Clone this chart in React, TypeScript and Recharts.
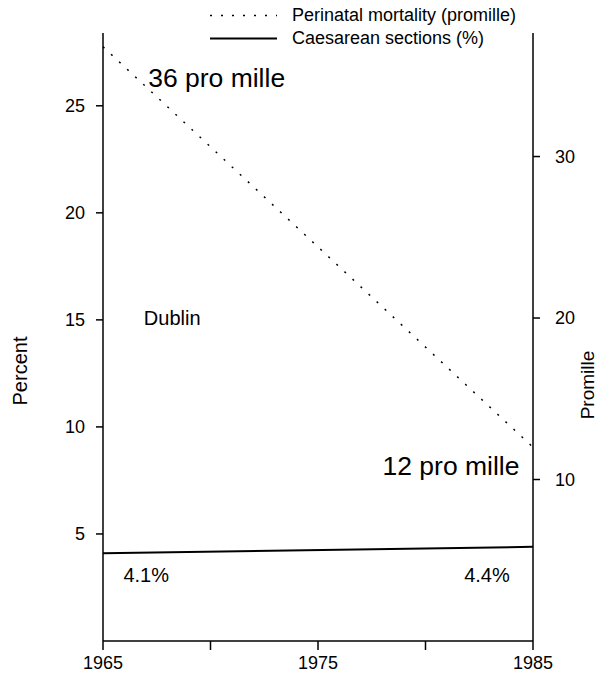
import React from 'react';
import {
  LineChart,
  Line,
  XAxis,
  YAxis,
  Legend,
  ReferenceDot,
} from 'recharts';

// values
const years = [1965, 1985];
const perinatalMortality = [36.8, 12];
const caesareanSections = [4.1, 4.4];

const yearTicks = [1965, 1970, 1975, 1980, 1985];
const yearLabels = [1965, 1975, 1985];
const percentTicks = [5, 10, 15, 20, 25];
const promilleTicks = [10, 20, 30];

const seriesNames = {
  perinatal: 'Perinatal mortality (promille)',
  caesarean: 'Caesarean sections (%)',
};
const legendOrder = ['perinatal', 'caesarean'];

// text notes on the plot, placed in data units of the left axis
const notes = [
  { text: '36 pro mille', year: 1967.1, pct: 26.3, size: 26.5 },
  { text: '12 pro mille', year: 1978.0, pct: 8.2, size: 26.5 },
  { text: 'Dublin', year: 1966.9, pct: 15.1, size: 20 },
  { text: '4.1%', year: 1965.95, pct: 3.1, size: 20 },
  { text: '4.4%', year: 1981.8, pct: 3.1, size: 20 },
];

const data = years.map((year, i) => ({
  year,
  perinatal: perinatalMortality[i],
  caesarean: caesareanSections[i],
}));

const FONT = '"Liberation Sans", Arial, sans-serif';
const dashes: Record<string, string | undefined> = { perinatal: '2 9', caesarean: undefined };

const renderLegend = (props: any) => {
  const payload = [...(props.payload || [])].sort(
    (a: any, b: any) => legendOrder.indexOf(a.dataKey) - legendOrder.indexOf(b.dataKey)
  );
  return (
    <div style={{ fontFamily: FONT, fontSize: 18, color: '#000' }}>
      {payload.map((entry: any) => (
        <div key={entry.dataKey} style={{ display: 'flex', alignItems: 'center', height: 23 }}>
          <svg width={82} height={23}>
            <line
              x1={0}
              x2={67}
              y1={11.5}
              y2={11.5}
              stroke="#000"
              strokeWidth={entry.dataKey === 'perinatal' ? 1.5 : 2}
              strokeDasharray={dashes[entry.dataKey]}
            />
          </svg>
          <span style={{ lineHeight: '23px', whiteSpace: 'nowrap' }}>{entry.value}</span>
        </div>
      ))}
    </div>
  );
};

const axisTitle = (value: string, dx: number, dy: number, size = 20) => (props: any) => {
  const { viewBox } = props;
  const x = viewBox.x + dx;
  const y = viewBox.y + viewBox.height / 2 + dy;
  return (
    <text
      x={x}
      y={y}
      transform={`rotate(-90, ${x}, ${y})`}
      textAnchor="middle"
      dominantBaseline="central"
      fontSize={size}
      fontFamily={FONT}
      fill="#000"
    >
      {value}
    </text>
  );
};

export default function App() {
  return (
    <div style={{ position: 'absolute', left: 0, top: 0, background: '#fff' }}>
      <LineChart
        width={598}
        height={675}
        data={data}
        margin={{ top: 33, right: 0, bottom: 0, left: 0 }}
        style={{ fontFamily: FONT }}
      >
        <XAxis
          dataKey="year"
          type="number"
          domain={[1965, 1985]}
          ticks={yearTicks}
          tickFormatter={(v: number) => (yearLabels.includes(v) ? String(v) : '')}
          height={34}
          tickSize={9}
          tickMargin={6}
          stroke="#000"
          strokeWidth={1.5}
          tick={{ fill: '#000', fontSize: 18 }}
          interval={0}
        />
        <YAxis
          yAxisId="left"
          domain={[0, 28.4]}
          ticks={percentTicks}
          width={103}
          tickSize={7}
          tickMargin={11}
          stroke="#000"
          strokeWidth={1.5}
          tick={{ fill: '#000', fontSize: 18 }}
          allowDataOverflow
          label={{ content: axisTitle('Percent', 20, 34) }}
        />
        <YAxis
          yAxisId="right"
          orientation="right"
          domain={[0, 37.65]}
          ticks={promilleTicks}
          width={65}
          tickSize={7}
          tickMargin={15}
          stroke="#000"
          strokeWidth={1.5}
          tick={{ fill: '#000', fontSize: 18 }}
          allowDataOverflow
          label={{ content: axisTitle('Promille', 54, 48, 19) }}
        />
        <Legend
          verticalAlign="middle"
          align="center"
          layout="horizontal"
          content={renderLegend}
          wrapperStyle={{ top: 3.5, left: 210, width: 360 }}
        />
        <Line
          yAxisId="right"
          type="linear"
          dataKey="perinatal"
          name={seriesNames.perinatal}
          stroke="#000"
          strokeWidth={1.5}
          strokeDasharray="2 9"
          dot={false}
          activeDot={false}
          isAnimationActive={false}
        />
        <Line
          yAxisId="left"
          type="linear"
          dataKey="caesarean"
          name={seriesNames.caesarean}
          stroke="#000"
          strokeWidth={2}
          dot={false}
          activeDot={false}
          isAnimationActive={false}
        />
        {notes.map((n) => (
          <ReferenceDot
            key={n.text}
            yAxisId="left"
            x={n.year}
            y={n.pct}
            r={0}
            fill="none"
            stroke="none"
            label={{
              value: n.text,
              position: 'right',
              offset: 0,
              fontSize: n.size,
              fill: '#000',
              fontFamily: FONT,
            }}
          />
        ))}
      </LineChart>
    </div>
  );
}
